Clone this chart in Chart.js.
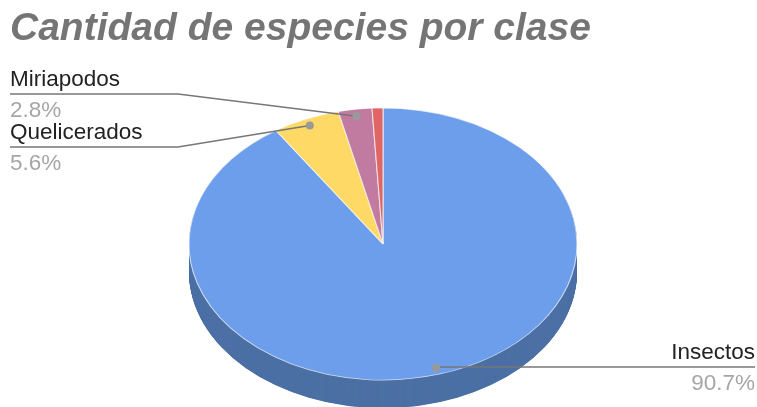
<!DOCTYPE html>
<html>
<head>
<meta charset="utf-8">
<script src="https://cdn.jsdelivr.net/npm/chart.js@4"></script>
<style>
  html, body { margin: 0; padding: 0; background: #ffffff; }
  #wrap { width: 757px; height: 407px; }
</style>
</head>
<body>
<div id="wrap"><canvas id="grafico_pie" width="757" height="407"></canvas></div>
<script>
var chartTitle = 'Cantidad de especies por clase';
var categories = ['Insectos', 'Quelicerados', 'Miriapodos', 'Crustáceos'];
var percentages = [90.7, 5.6, 2.8, 0.9];
var showLabel = [true, true, true, false];

var topColors = ['#6d9eeb', '#ffd966', '#c27ba0', '#e06666'];
var sideColors = ['#4c70a5', '#b89a47', '#8a5873', '#a04949'];

// where the tilted pie sits on the page
var CX = 383, CY = 244, RX = 194, RY = 136, DEPTH = 28;

// leader line layout per slice
var labelLayout = [
  { side: 'right', lineY: 367, xEnd: 755 },
  { side: 'left', lineY: 147, xEnd: 10, bend: 178 },
  { side: 'left', lineY: 94, xEnd: 10, bend: 178 },
  null
];

var pie3d = {
  id: 'pie3d',
  beforeDatasetsDraw: function (chart) {
    var meta = chart.getDatasetMeta(0);
    var first = meta.data[0];
    var R = first.outerRadius, x = first.x, y = first.y;
    var ctx = chart.ctx;
    ctx.save();
    ctx.translate(CX, CY);
    ctx.scale(RX / R, RY / R);
    ctx.translate(-x, -y);
    // side wall: stacked copies of each slice pushed down
    var depth = DEPTH * R / RY;
    for (var d = depth; d > 0; d -= 0.5) {
      meta.data.forEach(function (arc, i) {
        ctx.beginPath();
        ctx.moveTo(arc.x, arc.y + d);
        ctx.arc(arc.x, arc.y + d, arc.outerRadius, arc.startAngle, arc.endAngle);
        ctx.closePath();
        ctx.fillStyle = sideColors[i];
        ctx.fill();
      });
    }
  },
  afterDatasetsDraw: function (chart) {
    chart.ctx.restore();
  },
  afterDraw: function (chart) {
    var ctx = chart.ctx;
    var meta = chart.getDatasetMeta(0);
    var total = percentages.reduce(function (a, b) { return a + b; }, 0);
    meta.data.forEach(function (arc, i) {
      var lay = labelLayout[i];
      if (!showLabel[i] || !lay) return;
      var mid = (arc.startAngle + arc.endAngle) / 2;
      var px = CX + 0.95 * RX * Math.cos(mid);
      var py = CY + 0.95 * RY * Math.sin(mid);
      ctx.save();
      ctx.strokeStyle = '#777777';
      ctx.lineWidth = 1.5;
      ctx.beginPath();
      ctx.moveTo(px, py);
      if (lay.side === 'left') {
        ctx.lineTo(lay.bend, lay.lineY);
        ctx.lineTo(lay.xEnd, lay.lineY);
      } else {
        ctx.lineTo(px, lay.lineY);
        ctx.lineTo(lay.xEnd, lay.lineY);
      }
      ctx.stroke();
      ctx.fillStyle = '#999999';
      ctx.beginPath();
      ctx.arc(px, py, 4, 0, Math.PI * 2);
      ctx.fill();

      ctx.textAlign = lay.side === 'left' ? 'left' : 'right';
      ctx.textBaseline = 'alphabetic';
      ctx.font = '22.5px "Liberation Sans", Arial, sans-serif';
      ctx.fillStyle = '#222222';
      ctx.fillText(categories[i], lay.xEnd, lay.lineY - 8);
      ctx.fillStyle = '#a6a6a6';
      ctx.fillText((percentages[i] / total * 100).toFixed(1) + '%', lay.xEnd, lay.lineY + 23);
      ctx.restore();
    });
  }
};

var ctx = document.getElementById('grafico_pie').getContext('2d');
var pieChart = new Chart(ctx, {
  type: 'pie',
  data: {
    labels: categories,
    datasets: [{
      data: percentages,
      backgroundColor: topColors,
      borderColor: 'rgba(255,255,255,0.7)',
      borderWidth: 1
    }]
  },
  options: {
    responsive: false,
    animation: false,
    layout: { padding: { left: 10, right: 10, top: 0, bottom: 0 } },
    plugins: {
      legend: { display: false },
      tooltip: { enabled: false },
      title: {
        display: true,
        text: chartTitle,
        align: 'start',
        color: '#757575',
        font: { family: '"Liberation Sans", Arial, sans-serif', size: 39, weight: 'bold', style: 'italic' },
        padding: { top: 6, bottom: 0 }
      }
    }
  },
  plugins: [pie3d]
});
</script>
</body>
</html>
